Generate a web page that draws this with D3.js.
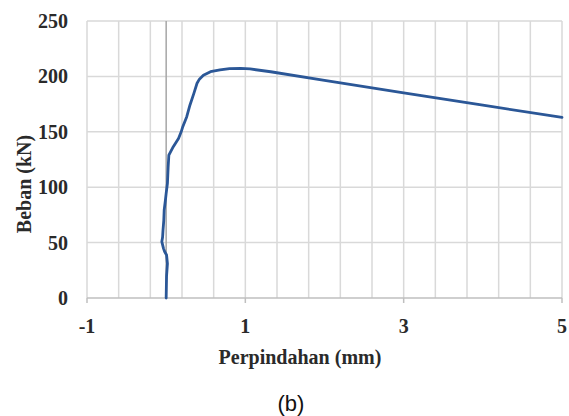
<!DOCTYPE html>
<html>
<head>
<meta charset="utf-8">
<script src="https://cdn.jsdelivr.net/npm/d3@7"></script>
<style>
  body { margin: 0; background: #fff; }
</style>
</head>
<body>
<div id="chart"></div>
<script>
// load-displacement curve
var displacement = [0, 0.005, 0.016, 0.005, -0.02, -0.034, -0.055, -0.045, -0.04, -0.03, -0.025, -0.01, 0, 0.016, 0.025, 0.034,
    0.09, 0.156, 0.19, 0.21, 0.26, 0.3, 0.35, 0.39, 0.42, 0.47, 0.56, 0.68, 0.8, 0.94, 1.06, 1.32, 2.0, 3.0, 4.0, 5.0];
var load = [0, 20, 31, 38.8, 42, 44.8, 50.8, 55, 61, 70, 79.4, 88, 94.5, 103.5, 118, 129,
    136.6, 144, 150, 154.6, 163.6, 174, 184.7, 193.8, 197.5, 201, 204.2, 205.8, 207, 207.3, 206.7, 204.2, 196.5, 185.2, 174, 163];

var xTicks = [-1, 1, 3, 5];
var yTicks = [0, 50, 100, 150, 200, 250];
var xGrid = d3.range(-1, 5.01, 0.4);

var SERIF = "'Liberation Serif', 'Times New Roman', Times, serif";
var SANS = "'Liberation Sans', Arial, sans-serif";

var width = 569, height = 416;
var margin = {top: 21, right: 7, bottom: 118, left: 87};
var plotW = width - margin.left - margin.right;
var plotH = height - margin.top - margin.bottom;

var svg = d3.select("#chart").append("svg")
    .attr("width", width)
    .attr("height", height);

var x = d3.scaleLinear().domain([-1, 5]).range([0, plotW]);
var y = d3.scaleLinear().domain([0, 250]).range([plotH, 0]);

var g = svg.append("g")
    .attr("transform", "translate(" + margin.left + "," + margin.top + ")");

// gridlines
g.append("g").selectAll("line").data(xGrid).enter()
    .append("line")
    .attr("x1", function(d) { return x(d); })
    .attr("x2", function(d) { return x(d); })
    .attr("y1", 0)
    .attr("y2", plotH)
    .attr("stroke", "#d9d9d9")
    .attr("stroke-width", 1.5);

g.append("g").selectAll("line").data(yTicks.filter(function(d) { return d > 0; })).enter()
    .append("line")
    .attr("x1", 0)
    .attr("x2", plotW)
    .attr("y1", function(d) { return y(d); })
    .attr("y2", function(d) { return y(d); })
    .attr("stroke", "#d9d9d9")
    .attr("stroke-width", 1.5);

// x axis along load = 0
g.append("line")
    .attr("x1", 0).attr("x2", plotW)
    .attr("y1", y(0)).attr("y2", y(0))
    .attr("stroke", "#bfbfbf")
    .attr("stroke-width", 1.5);

g.append("g").selectAll("line").data(xTicks).enter()
    .append("line")
    .attr("x1", function(d) { return x(d); })
    .attr("x2", function(d) { return x(d); })
    .attr("y1", y(0))
    .attr("y2", y(0) + 5)
    .attr("stroke", "#bfbfbf")
    .attr("stroke-width", 1.5);

// y axis crosses at displacement = 0
g.append("line")
    .attr("x1", x(0)).attr("x2", x(0))
    .attr("y1", 0).attr("y2", plotH)
    .attr("stroke", "#a6a6a6")
    .attr("stroke-width", 1.5);

// tick labels
g.append("g").selectAll("text").data(xTicks).enter()
    .append("text")
    .attr("font-family", SERIF)
    .attr("font-weight", "bold")
    .attr("font-size", 20)
    .attr("fill", "#2a2a2a")
    .attr("x", function(d) { return x(d); })
    .attr("y", plotH + 35)
    .attr("text-anchor", "middle")
    .text(function(d) { return d; });

g.append("g").selectAll("text").data(yTicks).enter()
    .append("text")
    .attr("font-family", SERIF)
    .attr("font-weight", "bold")
    .attr("font-size", 20)
    .attr("fill", "#2a2a2a")
    .attr("x", -19)
    .attr("y", function(d) { return y(d); })
    .attr("dy", "0.35em")
    .attr("text-anchor", "end")
    .text(function(d) { return d; });

// curve
var line = d3.line()
    .x(function(d, i) { return x(displacement[i]); })
    .y(function(d) { return y(d); })
    .curve(d3.curveLinear);

g.append("path")
    .datum(load)
    .attr("fill", "none")
    .attr("stroke", "#2b5797")
    .attr("stroke-width", 2.8)
    .attr("stroke-linejoin", "round")
    .attr("stroke-linecap", "round")
    .attr("d", line);

// titles
svg.append("text")
    .attr("font-family", SERIF)
    .attr("font-weight", "bold")
    .attr("font-size", 20)
    .attr("fill", "#2a2a2a")
    .attr("x", 300)
    .attr("y", 364)
    .attr("text-anchor", "middle")
    .text("Perpindahan (mm)");

svg.append("text")
    .attr("font-family", SERIF)
    .attr("font-weight", "bold")
    .attr("font-size", 20)
    .attr("fill", "#2a2a2a")
    .attr("transform", "translate(31,184) rotate(-90)")
    .attr("text-anchor", "middle")
    .text("Beban (kN)");

svg.append("text")
    .attr("font-family", SANS)
    .attr("font-size", 22)
    .attr("fill", "#111")
    .attr("x", 291)
    .attr("y", 411)
    .attr("text-anchor", "middle")
    .text("(b)");
</script>
</body>
</html>
